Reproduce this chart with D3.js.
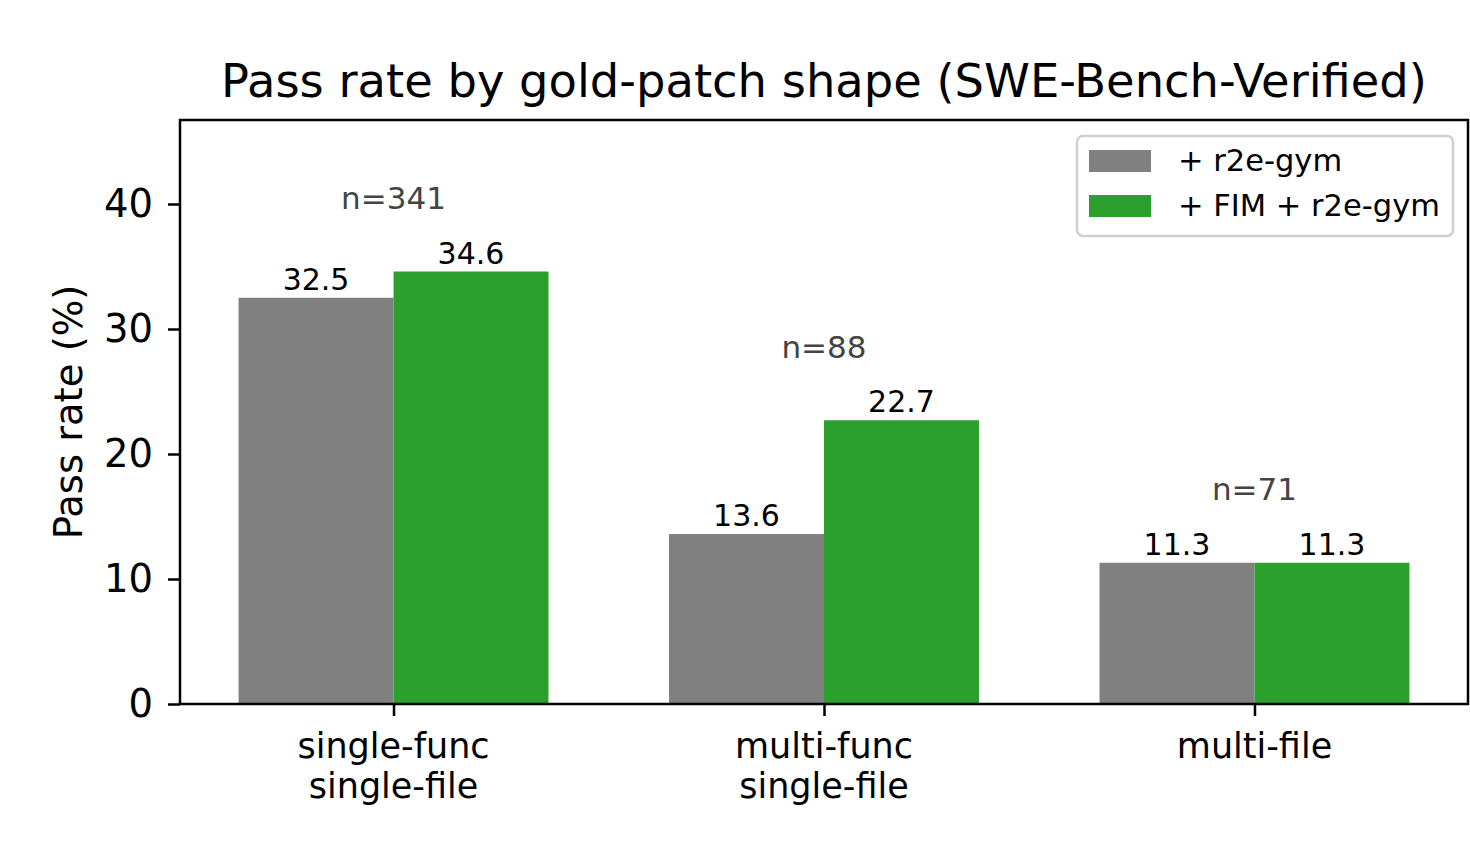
<!DOCTYPE html>
<html>
<head>
<meta charset="utf-8">
<script src="https://cdn.jsdelivr.net/npm/d3@7"></script>
<style>
  body { margin: 0; background: #fff; }
  text { font-family: 'DejaVu Sans', sans-serif; }
</style>
</head>
<body>
<div id="chart"></div>
<script>
// data
var categories = [["single-func", "single-file"], ["multi-func", "single-file"], ["multi-file"]];
var seriesNames = ["+ r2e-gym", "+ FIM + r2e-gym"];
var baseValues = [32.5, 13.6, 11.3];
var fimValues = [34.6, 22.7, 11.3];
var groupCounts = [341, 88, 71];
var yTicks = [0, 10, 20, 30, 40];
var colors = ["#808080", "#2ca02c"];

var width = 1470, height = 852;
var margin = { top: 120, right: 2, bottom: 148, left: 180 };
var barW = 0.36;

var svg = d3.select("#chart").append("svg")
    .attr("width", width)
    .attr("height", height);

var x = d3.scaleLinear()
    .domain([-0.496, 2.496])
    .range([margin.left, width - margin.right]);

var y = d3.scaleLinear()
    .domain([0, 46.72])
    .range([height - margin.bottom, margin.top]);

var series = [baseValues, fimValues];

// bars
series.forEach(function(vals, s) {
    var off = s === 0 ? -barW : 0;
    svg.append("g").selectAll("rect")
        .data(vals)
        .join("rect")
        .attr("x", function(d, i) { return x(i + off); })
        .attr("width", function(d, i) { return x(i + off + barW) - x(i + off); })
        .attr("y", function(d) { return y(d); })
        .attr("height", function(d) { return y(0) - y(d); })
        .attr("fill", colors[s]);

    // value labels
    svg.append("g").selectAll("text")
        .data(vals)
        .join("text")
        .attr("x", function(d, i) { return x(i + off + barW / 2); })
        .attr("y", function(d) { return y(d) - 8; })
        .attr("text-anchor", "middle")
        .style("font-size", "30px")
        .style("fill", "#000")
        .text(function(d) { return d.toFixed(1); });
});

// n= labels
svg.append("g").selectAll("text")
    .data(groupCounts)
    .join("text")
    .attr("x", function(d, i) { return x(i); })
    .attr("y", function(d, i) { return y(Math.max(baseValues[i], fimValues[i]) + 5); })
    .attr("text-anchor", "middle")
    .style("font-size", "31px")
    .style("fill", "#444444")
    .text(function(d) { return "n=" + d; });

// y axis
var yAxis = svg.append("g")
    .attr("transform", "translate(" + margin.left + ",0)")
    .call(d3.axisLeft(y).tickValues(yTicks).tickSize(12).tickPadding(15).tickFormat(d3.format("d")));
yAxis.select(".domain").remove();
yAxis.selectAll("line").attr("stroke", "#000").attr("stroke-width", 2.5);
yAxis.selectAll("text").style("font-size", "38.5px").style("font-family", "'DejaVu Sans', sans-serif").attr("fill", "#000");

// x axis
var xAxis = svg.append("g")
    .attr("transform", "translate(0," + y(0) + ")")
    .call(d3.axisBottom(x).tickValues([0, 1, 2]).tickSize(12).tickFormat(""));
xAxis.select(".domain").remove();
xAxis.selectAll("line").attr("stroke", "#000").attr("stroke-width", 2.5);

var xl = svg.append("g").selectAll("text")
    .data(categories)
    .join("text")
    .attr("x", function(d, i) { return x(i); })
    .attr("y", y(0) + 54)
    .attr("text-anchor", "middle")
    .style("font-size", "35px")
    .style("fill", "#000");
xl.selectAll("tspan")
    .data(function(d) { return d; })
    .join("tspan")
    .attr("x", function() { return d3.select(this.parentNode).attr("x"); })
    .attr("dy", function(d, i) { return i === 0 ? 0 : 40; })
    .text(function(d) { return d; });

// frame
svg.append("rect")
    .attr("x", margin.left)
    .attr("y", margin.top)
    .attr("width", width - margin.right - margin.left)
    .attr("height", height - margin.bottom - margin.top)
    .attr("fill", "none")
    .attr("stroke", "#000")
    .attr("stroke-width", 2.5);

// y label
svg.append("text")
    .attr("transform", "translate(82," + ((margin.top + height - margin.bottom) / 2) + ") rotate(-90)")
    .attr("text-anchor", "middle")
    .style("font-size", "38.5px")
    .text("Pass rate (%)");

// title
svg.append("text")
    .attr("x", (margin.left + width - margin.right) / 2)
    .attr("y", 97)
    .attr("text-anchor", "middle")
    .style("font-size", "46.4px")
    .text("Pass rate by gold-patch shape (SWE-Bench-Verified)");

// legend
var lg = svg.append("g").attr("transform", "translate(1077,136)");
lg.append("rect")
    .attr("width", 376).attr("height", 100)
    .attr("rx", 6)
    .attr("fill", "#fff").attr("fill-opacity", 0.8)
    .attr("stroke", "#d0d0d0").attr("stroke-width", 2.5);
seriesNames.forEach(function(name, i) {
    lg.append("rect")
        .attr("x", 12).attr("y", 14 + i * 45)
        .attr("width", 62).attr("height", 22)
        .attr("fill", colors[i]);
    lg.append("text")
        .attr("x", 101).attr("y", 35 + i * 45)
        .style("font-size", "30.5px")
        .text(name);
});
</script>
</body>
</html>
